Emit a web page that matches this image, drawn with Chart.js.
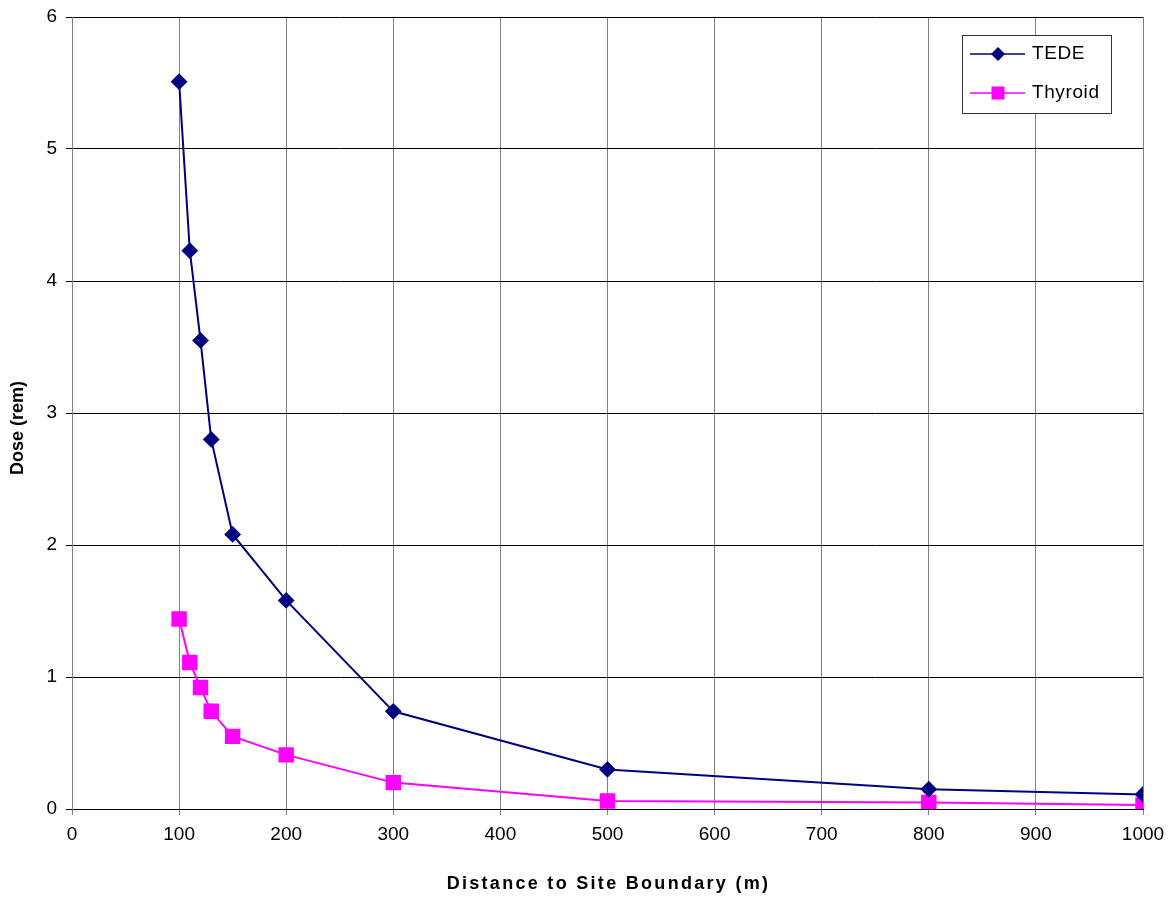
<!DOCTYPE html>
<html>
<head>
<meta charset="utf-8">
<script src="https://cdn.jsdelivr.net/npm/chart.js@4/dist/chart.umd.min.js"></script>
<style>
  html, body { margin: 0; padding: 0; background: #fff; }
  #wrap { width: 1175px; height: 899px; }
</style>
</head>
<body>
<div id="wrap"><canvas id="doseChart" width="1175" height="899"></canvas></div>
<script>
// distances (m) and dose (rem)
const distances = [100, 110, 120, 130, 150, 200, 300, 500, 800, 1000];
const tedeDose = [5.51, 4.23, 3.55, 2.80, 2.08, 1.58, 0.74, 0.30, 0.15, 0.11];
const thyroidDose = [1.44, 1.11, 0.92, 0.74, 0.55, 0.41, 0.20, 0.06, 0.05, 0.03];
const seriesNames = ['TEDE', 'Thyroid'];
const xTitle = 'Distance to Site Boundary (m)';
const yTitle = 'Dose (rem)';

const tedeColor = '#000080';
const thyroidColor = '#ff00ff';
const font = 'Liberation Sans, Arial, sans-serif';

function toPoints(xs, ys) {
  return xs.map((x, i) => ({ x: x, y: ys[i] }));
}

// axis titles drawn by hand so letter spacing can match
const axisTitles = {
  id: 'axisTitles',
  afterDraw(chart) {
    const ctx = chart.ctx;
    const area = chart.chartArea;
    ctx.save();
    ctx.fillStyle = '#000';
    ctx.font = 'bold 18px ' + font;
    ctx.textAlign = 'center';
    ctx.textBaseline = 'middle';
    ctx.letterSpacing = '2.3px';
    ctx.fillText(xTitle, (area.left + area.right) / 2 + 1, 884);
    ctx.letterSpacing = '0px';
    ctx.translate(18, 428);
    ctx.rotate(-Math.PI / 2);
    ctx.fillText(yTitle, 0, 0);
    ctx.restore();
  }
};

// legend box drawn inside the plot, top right
const legendBox = {
  id: 'legendBox',
  afterDraw(chart) {
    const ctx = chart.ctx;
    const x0 = 962, y0 = 35, w = 149, h = 78;
    ctx.save();
    ctx.fillStyle = '#fff';
    ctx.fillRect(x0, y0, w, h);
    ctx.strokeStyle = '#333';
    ctx.lineWidth = 1;
    ctx.strokeRect(x0 + 0.5, y0 + 0.5, w, h);
    chart.data.datasets.forEach((ds, i) => {
      const y = y0 + 19 + i * 39;
      ctx.strokeStyle = ds.borderColor;
      ctx.lineWidth = 1.5;
      ctx.beginPath();
      ctx.moveTo(x0 + 8, y);
      ctx.lineTo(x0 + 63, y);
      ctx.stroke();
      ctx.fillStyle = ds.borderColor;
      const cx = x0 + 36;
      if (ds.pointStyle === 'rectRot') {
        ctx.beginPath();
        ctx.moveTo(cx, y - 7);
        ctx.lineTo(cx + 7, y);
        ctx.lineTo(cx, y + 7);
        ctx.lineTo(cx - 7, y);
        ctx.closePath();
        ctx.fill();
      } else {
        ctx.fillRect(cx - 6.5, y - 6.5, 13, 13);
      }
      ctx.fillStyle = '#000';
      ctx.font = '19px ' + font;
      ctx.letterSpacing = '0.6px';
      ctx.textBaseline = 'middle';
      ctx.fillText(ds.label, x0 + 70, y);
    });
    ctx.restore();
  }
};

const ctx = document.getElementById('doseChart').getContext('2d');
new Chart(ctx, {
  type: 'line',
  data: {
    datasets: [
      {
        label: seriesNames[0],
        data: toPoints(distances, tedeDose),
        borderColor: tedeColor,
        backgroundColor: tedeColor,
        borderWidth: 2,
        pointStyle: 'rectRot',
        pointRadius: 7,
        pointHoverRadius: 7,
        tension: 0
      },
      {
        label: seriesNames[1],
        data: toPoints(distances, thyroidDose),
        borderColor: thyroidColor,
        backgroundColor: thyroidColor,
        borderWidth: 2,
        pointStyle: 'rect',
        pointRadius: 9.5,
        pointHoverRadius: 9.5,
        tension: 0
      }
    ]
  },
  options: {
    responsive: false,
    animation: false,
    layout: { padding: { top: 17, right: 32, left: 0, bottom: 0 } },
    plugins: { legend: { display: false }, tooltip: { enabled: false } },
    scales: {
      x: {
        type: 'linear',
        min: 0,
        max: 1000,
        ticks: {
          stepSize: 100,
          color: '#000',
          font: { family: font, size: 19 },
          padding: 8,
          callback: (v) => String(v)
        },
        grid: { color: '#808080', tickLength: 6, lineWidth: 1 },
        border: { color: '#000' },
        afterFit(scale) { scale.height = 90; }
      },
      y: {
        min: 0,
        max: 6,
        ticks: { stepSize: 1, color: '#000', font: { family: font, size: 19 }, padding: 9 },
        grid: { color: '#000', tickLength: 6, lineWidth: 1 },
        border: { color: '#808080' },
        afterFit(scale) {
          scale.width = 72;
          scale.paddingTop = 0;
          scale.paddingBottom = 0;
        }
      }
    }
  },
  plugins: [axisTitles, legendBox]
});
</script>
</body>
</html>
